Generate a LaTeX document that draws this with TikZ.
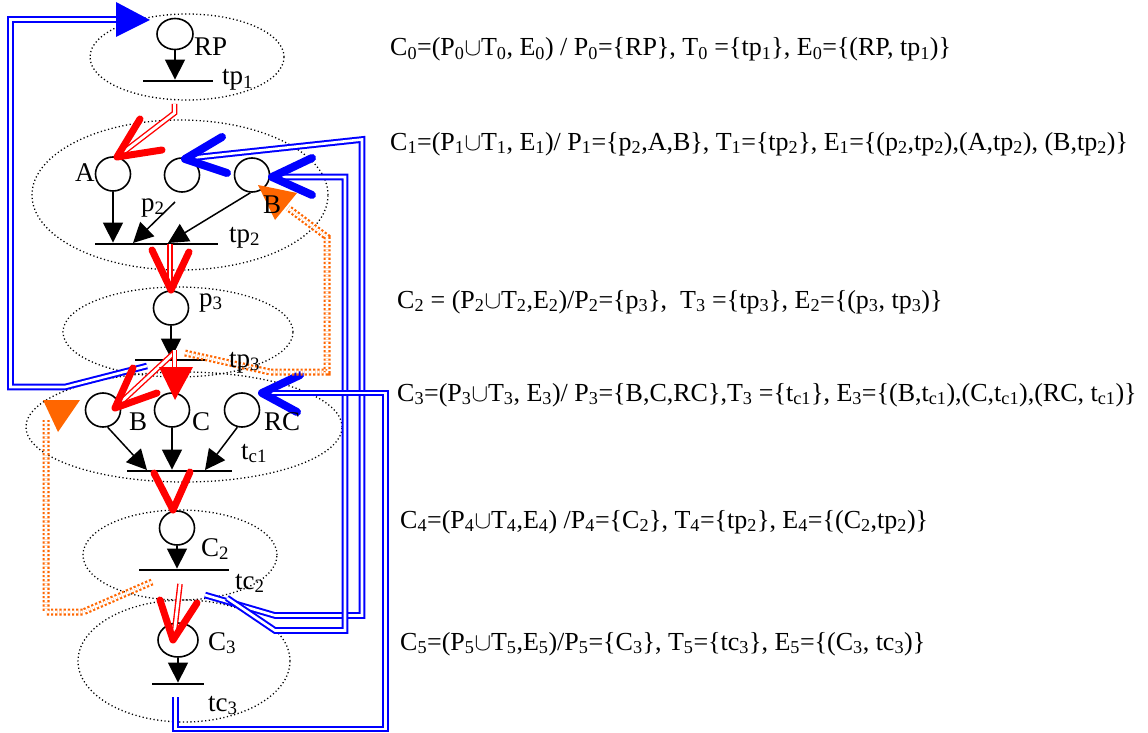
\documentclass[tikz,border=0pt]{standalone}
\usepackage{fontspec}
\setmainfont{Liberation Serif}
\usetikzlibrary{arrows.meta,shapes.geometric}
\newcommand\sbs[1]{\textsubscript{#1}}
\definecolor{orng}{RGB}{255,102,0}
\begin{document}
\begin{tikzpicture}[x=1pt,y=-1pt,
 place/.style={ellipse,draw,line width=1.6pt,minimum width=35pt,minimum height=34pt,inner sep=0pt},
 bar/.style={draw=none,fill=black,minimum height=2.4pt,inner sep=0pt},
 comp/.style={ellipse,draw,line width=1.3pt,dash pattern=on 1.2pt off 2.5pt,inner sep=0pt},
 arr/.style={line width=1.5pt,-{Triangle[length=20pt,width=20pt]}},
 lbl/.style={font=\fontsize{27}{32}\selectfont,anchor=base west,inner sep=0pt},
 eq/.style={font=\fontsize{26}{30}\selectfont,anchor=base west,inner sep=0pt},
 redd/.style={draw=red,double=white,line width=1.4pt,double distance=2.8pt},
 redv/.style={draw=red,line width=7pt,line cap=round,line join=round},
 blued/.style={draw=blue,double=white,line width=2pt,double distance=2.6pt},
 bluev/.style={draw=blue,line width=8pt,line cap=round,line join=round},
 orad/.style={draw=orng,double=white,line width=2.2pt,double distance=2.6pt,dash pattern=on 2.2pt off 2pt}
]
\useasboundingbox (0,0) rectangle (1148,733);
% components
\node[comp,minimum width=194pt,minimum height=86pt] (K0) at (187,57) {};
\node[comp,minimum width=296pt,minimum height=150pt] (K1) at (180,195) {};
\node[comp,minimum width=230pt,minimum height=90pt] (K2) at (178,332) {};
\node[comp,minimum width=316pt,minimum height=110pt] (K3) at (184,427) {};
\node[comp,minimum width=194pt,minimum height=90pt] (K4) at (180,555) {};
\node[comp,minimum width=212pt,minimum height=122pt] (K5) at (184,661) {};
% places and transitions
\node[place,minimum width=36pt,minimum height=31pt] (RP) at (175,34) {};
\node[bar,minimum width=70pt] (tp1) at (178,81) {};
\node[place] (A) at (113,174) {};
\node[place] (p2) at (182,175) {};
\node[place] (B1) at (252,175) {};
\node[bar,minimum width=123pt] (tp2) at (156.5,244) {};
\node[place] (p3) at (171,308) {};
\node[bar,minimum width=72pt] (tp3) at (171,360) {};
\node[place] (B3) at (103,410) {};
\node[place] (C) at (172,410) {};
\node[place] (RC) at (242,410) {};
\node[bar,minimum width=105pt] (tc1) at (179.5,471) {};
\node[place] (C2) at (177,528) {};
\node[bar,minimum width=90pt] (tc2) at (184,570) {};
\node[place,minimum width=40pt] (C3) at (178,640) {};
\node[bar,minimum width=52pt] (tc3) at (178,684) {};
% black arcs
\coordinate (p2s) at (175,202);
\coordinate (tp2a) at (133,243);
\coordinate (tp2b) at (168,243);
\coordinate (tc1a) at (147,470);
\coordinate (tc1b) at (205,470);
\draw[arr] (RP) -- (RP |- tp1.north);
\draw[arr] (A) -- (A |- tp2.north);
\draw[arr] (p2s) -- (tp2a);
\draw[arr] (B1.265) -- (tp2b);
\draw[arr] (p3) -- (p3 |- tp3.north);
\draw[arr] (B3.285) -- (tc1a);
\draw[arr] (C) -- (C |- tc1.north);
\draw[arr] (RC.255) -- (tc1b);
\draw[arr] (C2) -- (C2 |- tc2.north);
\draw[arr] (C3) -- (C3 |- tc3.north);
% blue loop back to RP
\coordinate (bl0) at (147,366);
\coordinate (bl1) at (117,19.5);
\draw[blued] (bl0) -- (65,387) -- (10.5,387) -- (10.5,19.5) -- (bl1);
\fill[blue] (116,2) -- (150,20) -- (116,37) -- cycle;
% blue to p2
\coordinate (bp0) at (205,595);
\coordinate (bp1) at (190,158);
\draw[blued] (bp0) -- (275,615.5) -- (362,615.5) -- (362,139.5) -- (bp1);
\draw[bluev] (222,137) -- (185,159) -- (227,173);
% blue to B
\coordinate (bb0) at (227,598);
\coordinate (bb1) at (276,177);
\draw[blued] (bb0) -- (275,630.5) -- (345,630.5) -- (345,177) -- (bb1);
\draw[bluev] (312,158) -- (272,177) -- (312,195);
% blue to RC
\coordinate (br0) at (175.5,697);
\coordinate (br1) at (266,393);
\draw[blued] (br0) -- (175.5,729) -- (385.5,729) -- (385.5,393) -- (br1);
\draw[bluev] (300,375) -- (262,393) -- (297,412);
% orange
\coordinate (o0) at (185,353);
\coordinate (o1) at (288,208);
\draw[orad] (o0) -- (270,372) -- (327,372) -- (327,237) -- (o1);
\fill[orng] (258,185) -- (297,193) -- (275,220) -- cycle;
\coordinate (q0) at (152,582);
\coordinate (q1) at (46,420);
\draw[orad] (q0) -- (83,612) -- (46,612) -- (q1);
\fill[orng] (43,400) -- (80,400) -- (58,432) -- cycle;
% red
\draw[redd] (174.5,104) -- (174.5,113) -- (121,154);
\draw[redv] (140,119) -- (117,157) -- (162,150);
\draw[redd] (170,244) -- (170,286);
\draw[redv] (152,250) -- (171,290) -- (189,252);
\draw[redd] (175,352) -- (119,404);
\draw[redv] (133,368) -- (115,408) -- (157,393);
\draw[redd] (174.5,350) -- (174.5,368);
\fill[red] (159,367) -- (193,367) -- (175,400) -- cycle;
\draw[redv] (154,473) -- (173,510) -- (190,472);
\draw[redd] (180,584) -- (174,636);
\draw[redv] (160,600) -- (173,640) -- (197,603);
% labels
\node[lbl] (lRP) at (194,56) {RP};
\node[lbl] (ltp1) at (222,85) {tp\sbs{1}};
\node[lbl] (lA) at (75,181) {A};
\node[lbl] (lp2) at (141,211) {p\sbs{2}};
\node[lbl] (lB1) at (263,213) {B};
\node[lbl] (ltp2) at (229,242) {tp\sbs{2}};
\node[lbl] (lp3) at (199,306) {p\sbs{3}};
\node[lbl] (ltp3) at (229,367) {tp\sbs{3}};
\node[lbl] (lB3) at (129,430) {B};
\node[lbl] (lC) at (192,430) {C};
\node[lbl] (lRC) at (264,430) {RC};
\node[lbl] (ltc1) at (241,459) {t\sbs{c1}};
\node[lbl] (lC2) at (201,556) {C\sbs{2}};
\node[lbl] (ltc2) at (235,589) {tc\sbs{2}};
\node[lbl] (lC3) at (208,650) {C\sbs{3}};
\node[lbl] (ltc3) at (208,711) {tc\sbs{3}};
% equations
\node[eq] (e0) at (390,56) {C\sbs{0}=(P\sbs{0}$\cup$T\sbs{0}, E\sbs{0}) / P\sbs{0}=\{RP\}, T\sbs{0} =\{tp\sbs{1}\}, E\sbs{0}=\{(RP, tp\sbs{1})\}};
\node[eq] (e1) at (390,150) {C\sbs{1}=(P\sbs{1}$\cup$T\sbs{1}, E\sbs{1})/ P\sbs{1}=\{p\sbs{2},A,B\}, T\sbs{1}=\{tp\sbs{2}\}, E\sbs{1}=\{(p\sbs{2},tp\sbs{2}),(A,tp\sbs{2}), (B,tp\sbs{2})\}};
\node[eq] (e2) at (397,308) {C\sbs{2} = (P\sbs{2}$\cup$T\sbs{2},E\sbs{2})/P\sbs{2}=\{p\sbs{3}\},~ T\sbs{3} =\{tp\sbs{3}\}, E\sbs{2}=\{(p\sbs{3}, tp\sbs{3})\}};
\node[eq] (e3) at (397,401) {C\sbs{3}=(P\sbs{3}$\cup$T\sbs{3}, E\sbs{3})/ P\sbs{3}=\{B,C,RC\},T\sbs{3} =\{t\sbs{c1}\}, E\sbs{3}=\{(B,t\sbs{c1}),(C,t\sbs{c1}),(RC, t\sbs{c1})\}};
\node[eq] (e4) at (400,528) {C\sbs{4}=(P\sbs{4}$\cup$T\sbs{4},E\sbs{4}) /P\sbs{4}=\{C\sbs{2}\}, T\sbs{4}=\{tp\sbs{2}\}, E\sbs{4}=\{(C\sbs{2},tp\sbs{2})\}};
\node[eq] (e5) at (400,650) {C\sbs{5}=(P\sbs{5}$\cup$T\sbs{5},E\sbs{5})/P\sbs{5}=\{C\sbs{3}\}, T\sbs{5}=\{tc\sbs{3}\}, E\sbs{5}=\{(C\sbs{3}, tc\sbs{3})\}};
\end{tikzpicture}
\end{document}
